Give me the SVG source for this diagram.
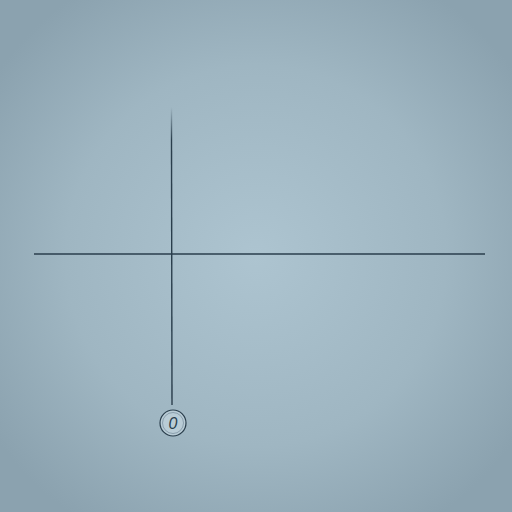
<svg xmlns="http://www.w3.org/2000/svg" width="512" height="512" viewBox="0 0 512 512">
<defs>
<radialGradient id="bg" cx="50%" cy="50%" r="62%">
<stop offset="0" stop-color="#adc4d0"/>
<stop offset="0.6" stop-color="#9fb6c2"/>
<stop offset="1" stop-color="#8ba2af"/>
</radialGradient>
<linearGradient id="vfade" x1="0" y1="107" x2="0" y2="140" gradientUnits="userSpaceOnUse">
<stop offset="0" stop-color="#2a3e4c" stop-opacity="0"/>
<stop offset="1" stop-color="#2a3e4c" stop-opacity="1"/>
</linearGradient>
<style>
.ax{stroke:#2a3e4c;stroke-width:1.4;fill:none}
.lbl{font-family:"Liberation Sans",Arial,sans-serif;font-size:16px;font-style:italic;fill:#2a3e4c}
</style>
</defs>
<rect width="512" height="512" fill="url(#bg)"/>
<g id="connectors">
<line x1="171.5" y1="107" x2="171.5" y2="140" stroke="url(#vfade)" stroke-width="1.4"/>
<line class="ax" x1="171.5" y1="140" x2="172" y2="405"/>
<line class="ax" x1="34" y1="254" x2="485" y2="254"/>
</g>
<g id="node-origin">
<circle cx="173" cy="423" r="13" fill="#b9ccd6" stroke="#2a3e4c" stroke-width="1.2"/>
<circle cx="173" cy="423" r="10.5" fill="none" stroke="#6a8090" stroke-width="0.6"/>
<text class="lbl" x="173" y="429" text-anchor="middle">0</text>
</g>
</svg>
